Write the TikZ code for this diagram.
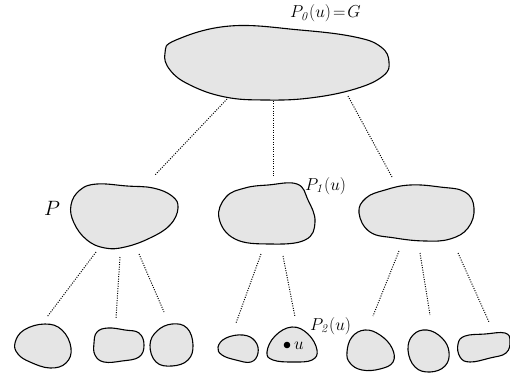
\documentclass[tikz,border=0pt]{standalone}
\begin{document}
\begin{tikzpicture}[x=1pt,y=-1pt,
  blob/.style={draw=black,fill=black!10,line width=1.1pt,smooth cycle,tension=0.7},
  link/.style={draw=black,line width=1pt,dash pattern=on 1pt off 1.4pt},
  lbl/.style={inner sep=0pt,font=\fontsize{18.5}{21}\selectfont}]
\useasboundingbox (0,0) rectangle (510,377);
% top
\draw[blob] plot coordinates {(165,53) (176,40) (230,26) (300,30) (355,37) (381,47) (389,62) (383,76) (355,89) (310,98) (265,100) (225,97) (190,85) (170,70)};
% level 2
\draw[blob] plot coordinates {(71,205) (80,190) (97,184) (127,186) (153,188) (172,196) (178,208) (170,225) (150,238) (125,247) (105,248) (87,240) (74,223)};
\draw[blob] plot coordinates {(219,218) (226,197) (245,188) (268,185) (297,184) (308,200) (315,222) (305,240) (270,244) (235,239)};
\draw[blob] plot coordinates {(359,213) (366,198) (385,190) (410,185) (440,187) (465,192) (474,208) (468,228) (450,239) (425,241) (395,238) (370,232)};
% level 3
\draw[blob] plot coordinates {(15,343) (24,330) (45,324) (62,330) (71,348) (66,363) (50,368) (30,362) (18,354)};
\draw[blob] plot coordinates {(94,343) (97,332) (108,328) (125,330) (139,333) (144,345) (139,357) (122,361) (104,362) (95,355)};
\draw[blob] plot coordinates {(150,345) (157,331) (172,324) (187,328) (193,345) (188,360) (172,366) (156,362)};
\draw[blob] plot coordinates {(218,347) (226,338) (243,335) (255,341) (258,353) (251,362) (236,360) (222,355)};
\draw[blob] plot coordinates {(267,352) (275,336) (292,327) (308,334) (317,350) (312,360) (293,362) (273,360)};
\draw[blob] plot coordinates {(347,352) (352,337) (365,330) (380,335) (392,348) (393,362) (380,369) (362,370) (350,363)};
\draw[blob] plot coordinates {(408,350) (413,335) (427,330) (442,338) (449,352) (445,366) (430,372) (415,367)};
\draw[blob] plot coordinates {(458,344) (465,336) (485,334) (505,333) (510,341) (506,353) (490,358) (470,362) (460,357)};
% connector end points
\coordinate (t1) at (227,99); \coordinate (a1) at (155,175);
\coordinate (t2) at (273,101); \coordinate (b1) at (273,176);
\coordinate (t3) at (348,96); \coordinate (c1) at (392,177);
\coordinate (p1) at (96,252); \coordinate (q1) at (47,317);
\coordinate (p2) at (120,257); \coordinate (q2) at (116,318);
\coordinate (p3) at (139,254); \coordinate (q3) at (164,312);
\coordinate (m1) at (261,254); \coordinate (r1) at (236,323);
\coordinate (m2) at (283,256); \coordinate (r2) at (295,317);
\coordinate (n1) at (399,251); \coordinate (s1) at (373,316);
\coordinate (n2) at (420,253); \coordinate (s2) at (430,315);
\coordinate (n3) at (458,253); \coordinate (s3) at (489,322);
\foreach \a/\b in {t1/a1,t2/b1,t3/c1,p1/q1,p2/q2,p3/q3,m1/r1,m2/r2,n1/s1,n2/s2,n3/s3}
  \draw[link] (\a) -- (\b);
% labels
\node[lbl,anchor=base west] (l0) at (290,18) {$P_{\mathit{0}}(u)\!=\!G$};
\node[lbl,anchor=base west] (l1) at (305,190) {$P_{\mathit{1}}(u)$};
\node[lbl,anchor=base west] (l2) at (310,330) {$P_{\mathit{2}}(u)$};
\node[lbl,anchor=base west,font=\fontsize{21}{24}\selectfont] (lp) at (44,215) {$P$};
\fill (287,345) circle (3.3pt) coordinate (dot);
\node[lbl,anchor=base west,font=\fontsize{17}{19}\selectfont] (lu) at (294,349) {$u$};
\end{tikzpicture}
\end{document}
